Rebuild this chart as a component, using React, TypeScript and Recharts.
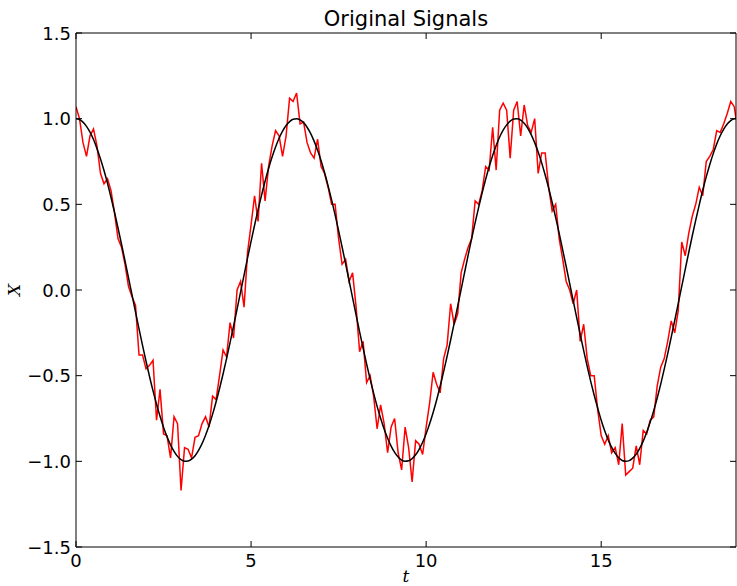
import React from "react";
import { LineChart, Line, XAxis, YAxis } from "recharts";

const tValues = [
  0, 0.1, 0.2, 0.3, 0.4, 0.5, 0.6, 0.7, 0.8, 0.9,
  1, 1.1, 1.2, 1.3, 1.4, 1.5, 1.6, 1.7, 1.8, 1.9,
  2, 2.1, 2.2, 2.3, 2.4, 2.5, 2.6, 2.7, 2.8, 2.9,
  3, 3.1, 3.2, 3.3, 3.4, 3.5, 3.6, 3.7, 3.8, 3.9,
  4, 4.1, 4.2, 4.3, 4.4, 4.5, 4.6, 4.7, 4.8, 4.9,
  5, 5.1, 5.2, 5.3, 5.4, 5.5, 5.6, 5.7, 5.8, 5.9,
  6, 6.1, 6.2, 6.3, 6.4, 6.5, 6.6, 6.7, 6.8, 6.9,
  7, 7.1, 7.2, 7.3, 7.4, 7.5, 7.6, 7.7, 7.8, 7.9,
  8, 8.1, 8.2, 8.3, 8.4, 8.5, 8.6, 8.7, 8.8, 8.9,
  9, 9.1, 9.2, 9.3, 9.4, 9.5, 9.6, 9.7, 9.8, 9.9,
  10, 10.1, 10.2, 10.3, 10.4, 10.5, 10.6, 10.7, 10.8, 10.9,
  11, 11.1, 11.2, 11.3, 11.4, 11.5, 11.6, 11.7, 11.8, 11.9,
  12, 12.1, 12.2, 12.3, 12.4, 12.5, 12.6, 12.7, 12.8, 12.9,
  13, 13.1, 13.2, 13.3, 13.4, 13.5, 13.6, 13.7, 13.8, 13.9,
  14, 14.1, 14.2, 14.3, 14.4, 14.5, 14.6, 14.7, 14.8, 14.9,
  15, 15.1, 15.2, 15.3, 15.4, 15.5, 15.6, 15.7, 15.8, 15.9,
  16, 16.1, 16.2, 16.3, 16.4, 16.5, 16.6, 16.7, 16.8, 16.9,
  17, 17.1, 17.2, 17.3, 17.4, 17.5, 17.6, 17.7, 17.8, 17.9,
  18, 18.1, 18.2, 18.3, 18.4, 18.5, 18.6, 18.7, 18.8, 18.85,
];

const cleanValues = [
  1.0, 0.995, 0.98, 0.955, 0.921, 0.878, 0.825, 0.765, 0.697, 0.622,
  0.54, 0.454, 0.362, 0.267, 0.17, 0.071, -0.029, -0.129, -0.227, -0.323,
  -0.416, -0.505, -0.589, -0.666, -0.737, -0.801, -0.857, -0.904, -0.942, -0.971,
  -0.99, -0.999, -0.998, -0.987, -0.967, -0.936, -0.897, -0.848, -0.791, -0.726,
  -0.654, -0.575, -0.49, -0.401, -0.307, -0.211, -0.112, -0.012, 0.087, 0.187,
  0.284, 0.378, 0.469, 0.554, 0.635, 0.709, 0.776, 0.835, 0.886, 0.927,
  0.96, 0.983, 0.997, 1.0, 0.993, 0.977, 0.95, 0.914, 0.869, 0.816,
  0.754, 0.684, 0.608, 0.526, 0.438, 0.347, 0.251, 0.153, 0.054, -0.046,
  -0.146, -0.244, -0.339, -0.432, -0.52, -0.602, -0.679, -0.748, -0.811, -0.865,
  -0.911, -0.948, -0.975, -0.993, -1.0, -0.997, -0.984, -0.962, -0.93, -0.889,
  -0.839, -0.781, -0.715, -0.642, -0.562, -0.476, -0.386, -0.292, -0.195, -0.096,
  0.004, 0.104, 0.203, 0.3, 0.393, 0.482, 0.567, 0.646, 0.719, 0.785,
  0.844, 0.893, 0.933, 0.964, 0.986, 0.998, 0.999, 0.991, 0.973, 0.945,
  0.907, 0.86, 0.805, 0.742, 0.671, 0.594, 0.511, 0.422, 0.33, 0.234,
  0.137, 0.038, -0.062, -0.161, -0.259, -0.354, -0.446, -0.533, -0.614, -0.689,
  -0.76, -0.822, -0.875, -0.919, -0.954, -0.979, -0.995, -1.0, -0.996, -0.981,
  -0.958, -0.924, -0.882, -0.83, -0.771, -0.704, -0.63, -0.549, -0.462, -0.371,
  -0.275, -0.178, -0.079, 0.021, 0.12, 0.219, 0.315, 0.408, 0.497, 0.582,
  0.66, 0.731, 0.796, 0.853, 0.9, 0.939, 0.969, 0.989, 0.999, 1.0,
];

const noisyValues = [
  1.07, 1.0, 0.86, 0.78, 0.9, 0.94, 0.84, 0.68, 0.62, 0.65,
  0.58, 0.45, 0.3, 0.25, 0.15, 0.02, -0.04, -0.09, -0.38, -0.38,
  -0.46, -0.44, -0.41, -0.76, -0.58, -0.84, -0.85, -0.98, -0.74, -0.78,
  -1.17, -0.92, -0.93, -0.98, -0.86, -0.85, -0.78, -0.74, -0.8, -0.62,
  -0.64, -0.5, -0.35, -0.39, -0.19, -0.28, 0.0, 0.05, -0.1, 0.22,
  0.38, 0.55, 0.4, 0.74, 0.52, 0.72, 0.84, 0.93, 0.9, 0.78,
  0.9, 1.12, 1.1, 1.15, 0.97, 0.98, 0.86, 0.8, 0.77, 0.88,
  0.72, 0.68, 0.6, 0.5, 0.5, 0.3, 0.15, 0.18, 0.05, 0.1,
  -0.1, -0.36, -0.3, -0.54, -0.5, -0.62, -0.81, -0.67, -0.78, -0.95,
  -0.8, -0.75, -0.95, -1.05, -0.8, -0.92, -1.12, -0.88, -0.9, -0.96,
  -0.8, -0.66, -0.48, -0.55, -0.6, -0.4, -0.32, -0.08, -0.2, -0.14,
  0.1, 0.18, 0.25, 0.3, 0.52, 0.5, 0.58, 0.72, 0.7, 0.95,
  0.7, 1.05, 1.09, 1.05, 0.77, 1.05, 1.1, 0.9, 1.08, 0.96,
  0.92, 1.0, 0.68, 0.8, 0.8, 0.6, 0.46, 0.5, 0.3, 0.18,
  0.05, 0.0, -0.08, 0.0, -0.3, -0.2, -0.4, -0.5, -0.5, -0.7,
  -0.85, -0.9, -0.85, -0.95, -0.92, -1.02, -0.78, -1.08, -1.06, -1.04,
  -0.91, -1.02, -0.82, -0.84, -0.76, -0.74, -0.56, -0.45, -0.4, -0.3,
  -0.18, -0.25, -0.12, 0.28, 0.2, 0.33, 0.43, 0.5, 0.6, 0.55,
  0.75, 0.78, 0.82, 0.93, 0.92, 0.97, 1.03, 1.1, 1.07, 1.0,
];

const xTicks = [0, 5, 10, 15];
const yTicks = [-1.5, -1.0, -0.5, 0.0, 0.5, 1.0, 1.5];
const title = "Original Signals";
const xLabel = "t";
const yLabel = "X";

const data = tValues.map((t, i) => ({ t, clean: cleanValues[i], noisy: noisyValues[i] }));

const W = 737;
const H = 586;
const TICK_LEN = 6;
const FONT = "'DejaVu Sans', sans-serif";
const TICK_FONT_SIZE = 18;

const fmtY = (v: number) => {
  const s = Math.abs(v).toFixed(1);
  return v < 0 ? "\u2212" + s : s;
};

const LeftTick = (props: any) => {
  const { x, y, payload } = props;
  return (
    <g>
      <line x1={x} y1={y} x2={x + TICK_LEN} y2={y} stroke="#000" strokeWidth={1} />
      <text x={x - 5} y={y} textAnchor="end" dominantBaseline="central" fontFamily={FONT} fontSize={TICK_FONT_SIZE} fill="#000">
        {fmtY(payload.value)}
      </text>
    </g>
  );
};

const RightTick = (props: any) => {
  const { x, y } = props;
  return <line x1={x} y1={y} x2={x - TICK_LEN} y2={y} stroke="#000" strokeWidth={1} />;
};

const BottomTick = (props: any) => {
  const { x, y, payload } = props;
  return (
    <g>
      <line x1={x} y1={y} x2={x} y2={y - TICK_LEN} stroke="#000" strokeWidth={1} />
      <text x={x} y={y + 6} textAnchor="middle" dy="0.76em" fontFamily={FONT} fontSize={TICK_FONT_SIZE} fill="#000">
        {String(payload.value)}
      </text>
    </g>
  );
};

const TopTick = (props: any) => {
  const { x, y } = props;
  return <line x1={x} y1={y} x2={x} y2={y + TICK_LEN} stroke="#000" strokeWidth={1} />;
};

export default function App() {
  return (
    <div style={{ position: "absolute", left: 0, top: 0, width: W, height: H, background: "#fff" }}>
      <LineChart width={W} height={H} data={data} margin={{ top: 32, right: 0, bottom: 0, left: 0 }}>
        <XAxis
          xAxisId="bottom"
          dataKey="t"
          type="number"
          domain={[0, 18.85]}
          ticks={xTicks}
          allowDataOverflow
          height={39}
          tickSize={0}
          tickMargin={0}
          tick={<BottomTick />}
          axisLine={{ stroke: "#000", strokeWidth: 1 }}
          interval={0}
        />
        <XAxis
          xAxisId="top"
          orientation="top"
          dataKey="t"
          type="number"
          domain={[0, 18.85]}
          ticks={xTicks}
          allowDataOverflow
          height={1}
          tickSize={0}
          tickMargin={0}
          tick={<TopTick />}
          axisLine={{ stroke: "#000", strokeWidth: 1 }}
          interval={0}
        />
        <YAxis
          yAxisId="left"
          type="number"
          domain={[-1.5, 1.5]}
          ticks={yTicks}
          allowDataOverflow
          width={76}
          tickSize={0}
          tickMargin={0}
          tick={<LeftTick />}
          axisLine={{ stroke: "#000", strokeWidth: 1 }}
          interval={0}
        />
        <YAxis
          yAxisId="right"
          orientation="right"
          type="number"
          domain={[-1.5, 1.5]}
          ticks={yTicks}
          allowDataOverflow
          width={1}
          tickSize={0}
          tickMargin={0}
          tick={<RightTick />}
          axisLine={{ stroke: "#000", strokeWidth: 1 }}
          interval={0}
        />
        <Line
          xAxisId="top"
          yAxisId="right"
          dataKey="clean"
          stroke="none"
          dot={false}
          activeDot={false}
          isAnimationActive={false}
        />
        <Line
          xAxisId="bottom"
          yAxisId="left"
          type="linear"
          dataKey="noisy"
          stroke="#ff0000"
          strokeWidth={1.5}
          dot={false}
          activeDot={false}
          isAnimationActive={false}
        />
        <Line
          xAxisId="bottom"
          yAxisId="left"
          type="monotone"
          dataKey="clean"
          stroke="#000000"
          strokeWidth={1.5}
          dot={false}
          activeDot={false}
          isAnimationActive={false}
        />
      </LineChart>
      <svg width={W} height={H} style={{ position: "absolute", left: 0, top: 0, pointerEvents: "none" }}>
        <text x={406} y={26} textAnchor="middle" fontFamily={FONT} fontSize={21} fill="#000">
          {title}
        </text>
        <text x={406} y={582} textAnchor="middle" fontFamily="'DejaVu Serif', serif" fontStyle="italic" fontSize={17} fill="#000">
          {xLabel}
        </text>
        <text
          x={20}
          y={290}
          textAnchor="middle"
          fontFamily="'DejaVu Serif', serif"
          fontStyle="italic"
          fontSize={17}
          fill="#000"
          transform="rotate(-90 20 290)"
        >
          {yLabel}
        </text>
      </svg>
    </div>
  );
}
